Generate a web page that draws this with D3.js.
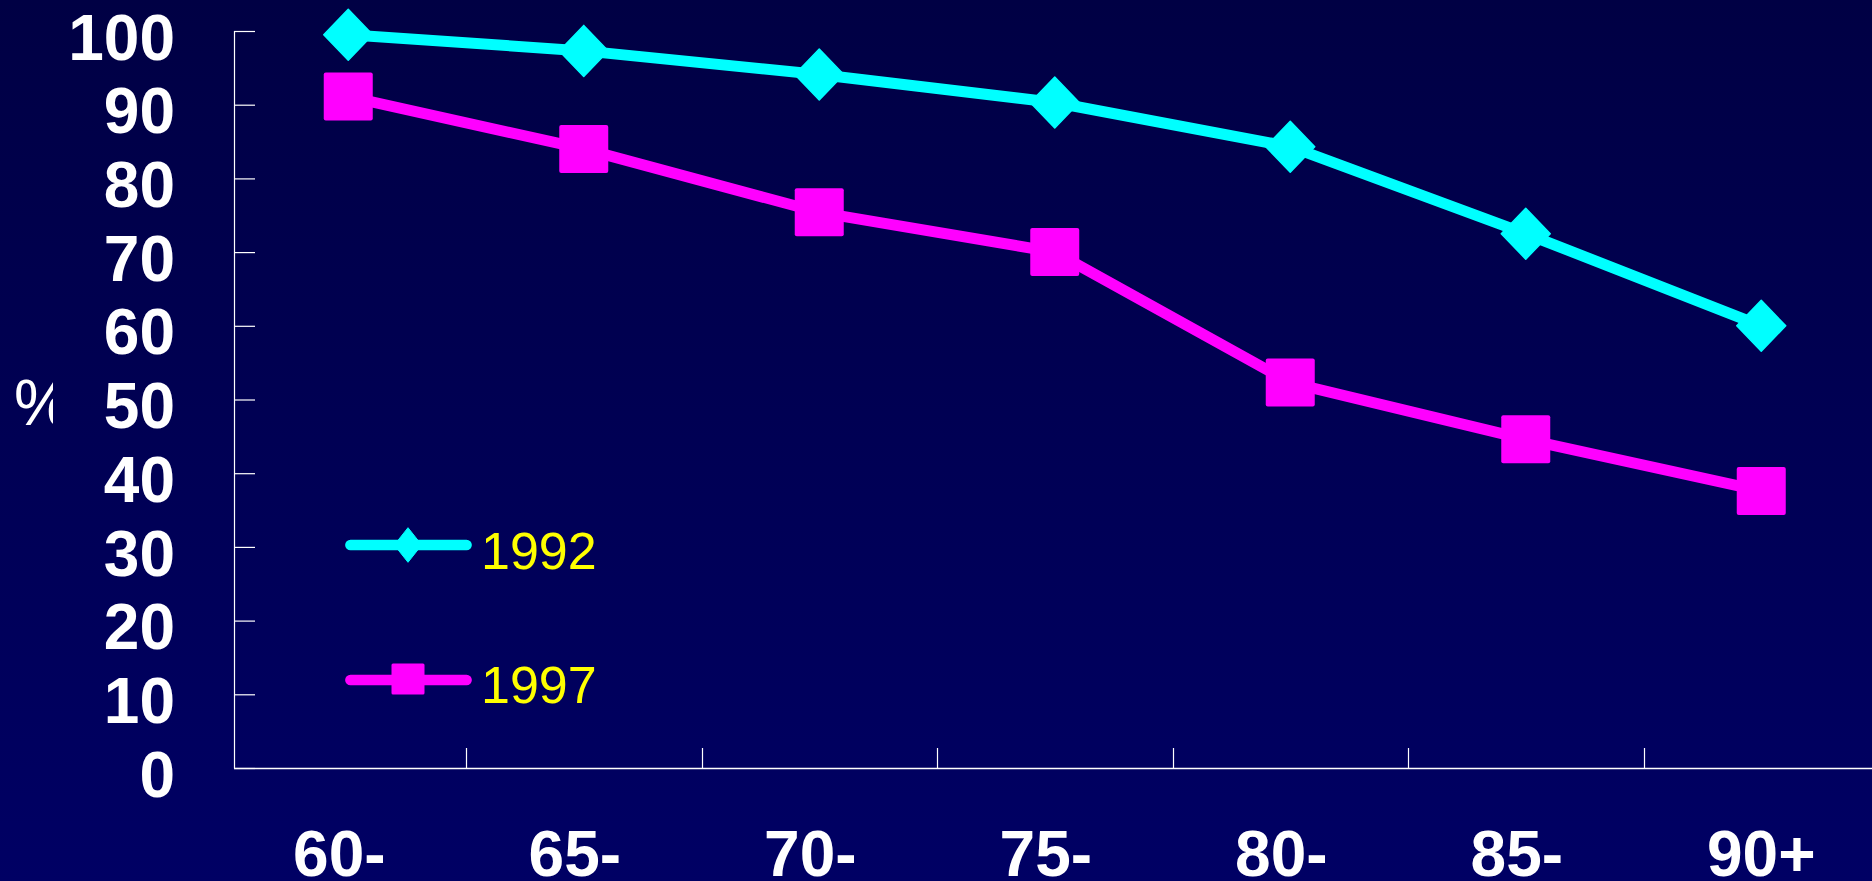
<!DOCTYPE html>
<html>
<head>
<meta charset="utf-8">
<script src="https://cdn.jsdelivr.net/npm/d3@7"></script>
<style>
  html, body { margin: 0; padding: 0; overflow: hidden; background: #000052; }
  svg { display: block; }
</style>
</head>
<body>
<script>
// Age groups along the horizontal axis
const ageGroups = ["60-", "65-", "70-", "75-", "80-", "85-", "90+"];
// Percentages per age group for each survey year
const values1992 = [99.5, 97.3, 94.1, 90.3, 84.3, 72.5, 60.0];
const values1997 = [91.1, 84.0, 75.4, 70.0, 52.3, 44.6, 37.6];
const seriesNames = ["1992", "1997"];
const yTicks = [0, 10, 20, 30, 40, 50, 60, 70, 80, 90, 100];
const yLabel = "%";

const W = 1872, H = 881;
const axisX = 234, axisY = 768;

const svg = d3.select("body").append("svg")
  .attr("width", W).attr("height", H);

// Background: deep navy, slightly lighter toward the bottom
const defs = svg.append("defs");
const grad = defs.append("linearGradient")
  .attr("id", "bg").attr("x1", 0).attr("y1", 0).attr("x2", 0).attr("y2", 1);
grad.append("stop").attr("offset", "0%").attr("stop-color", "#000044");
grad.append("stop").attr("offset", "100%").attr("stop-color", "#000064");
svg.append("rect").attr("width", W).attr("height", H).attr("fill", "url(#bg)");

defs.append("clipPath").attr("id", "pctClip")
  .append("rect").attr("x", 0).attr("y", 300).attr("width", 53).attr("height", 200);

const x = d3.scaleBand().domain(ageGroups).range([230.5, 230.5 + 7 * 235.5]).padding(0);
const y = d3.scaleLinear().domain([0, 100]).range([axisY, 31]);
const cx = d => x(d) + x.bandwidth() / 2;

const font = "'Liberation Sans', Arial, Helvetica, sans-serif";

// Y axis with inward ticks
const yAxis = svg.append("g")
  .attr("transform", `translate(${axisX},0)`)
  .call(d3.axisLeft(y).tickValues(yTicks).tickSize(-21).tickPadding(59).tickSizeOuter(0));
yAxis.select(".domain").attr("stroke", "#fff").attr("stroke-width", 1.2)
  .attr("d", `M0.5,${y(100)}V${axisY + 0.5}`);
yAxis.selectAll(".tick line").attr("stroke", "#fff").attr("stroke-width", 1.2);
yAxis.selectAll(".tick text")
  .attr("fill", "#fff").attr("dy", "0.44em")
  .style("font-family", font).style("font-size", "64px").style("font-weight", "bold");

// X axis line and category separators
svg.append("line")
  .attr("x1", axisX).attr("x2", W + 10)
  .attr("y1", axisY + 0.5).attr("y2", axisY + 0.5)
  .attr("stroke", "#fff").attr("stroke-width", 1.5);
svg.append("g").selectAll("line")
  .data(ageGroups.slice(1))
  .join("line")
  .attr("x1", d => Math.round(x(d)) + 0.5).attr("x2", d => Math.round(x(d)) + 0.5)
  .attr("y1", axisY).attr("y2", axisY - 20)
  .attr("stroke", "#fff").attr("stroke-width", 1.2);

// Category labels (hyphenated labels carry a trailing space in their text box)
svg.append("g").selectAll("text")
  .data(ageGroups)
  .join("text")
  .attr("x", d => cx(d))
  .attr("y", 876)
  .attr("dx", d => d.endsWith("-") ? -8.9 : 0)
  .attr("text-anchor", "middle")
  .attr("fill", "#fff")
  .style("font-family", font).style("font-size", "64px").style("font-weight", "bold")
  .text(d => d);

// Y axis caption, cut off on its right side
svg.append("text")
  .attr("x", 14).attr("y", 425)
  .attr("clip-path", "url(#pctClip)")
  .attr("fill", "#fff")
  .style("font-family", font).style("font-size", "64px")
  .text(yLabel);

const line = d3.line().x((d, i) => cx(ageGroups[i])).y(d => y(d));

const diamondPath = (hw, hh) => `M0,${-hh}L${hw},0L0,${hh}L${-hw},0Z`;

// 1992 series
svg.append("path")
  .datum(values1992)
  .attr("d", line)
  .attr("fill", "none").attr("stroke", "#00ffff")
  .attr("stroke-width", 11).attr("stroke-linejoin", "round");
svg.append("g").selectAll("path")
  .data(values1992)
  .join("path")
  .attr("transform", (d, i) => `translate(${cx(ageGroups[i])},${y(d)})`)
  .attr("d", diamondPath(24.5, 25.5))
  .attr("fill", "#00ffff").attr("stroke", "#00ffff")
  .attr("stroke-width", 1.5).attr("stroke-linejoin", "round");

// 1997 series
svg.append("path")
  .datum(values1997)
  .attr("d", line)
  .attr("fill", "none").attr("stroke", "#ff00ff")
  .attr("stroke-width", 11).attr("stroke-linejoin", "round");
svg.append("g").selectAll("rect")
  .data(values1997)
  .join("rect")
  .attr("x", (d, i) => cx(ageGroups[i]) - 24.5)
  .attr("y", d => y(d) - 24)
  .attr("width", 49).attr("height", 48)
  .attr("rx", 2)
  .attr("fill", "#ff00ff");

// Legend
const legend = svg.append("g");
const legendRows = [
  { name: seriesNames[0], color: "#00ffff", y: 545, baseline: 569, shape: "diamond" },
  { name: seriesNames[1], color: "#ff00ff", y: 680, baseline: 703, shape: "square" }
];
legendRows.forEach(r => {
  legend.append("line")
    .attr("x1", 350.5).attr("x2", 466.5).attr("y1", r.y).attr("y2", r.y)
    .attr("stroke", r.color).attr("stroke-width", 10.7).attr("stroke-linecap", "round");
  if (r.shape === "diamond") {
    legend.append("path")
      .attr("transform", `translate(408,${r.y})`)
      .attr("d", diamondPath(13.7, 17.3))
      .attr("fill", r.color).attr("stroke", r.color).attr("stroke-linejoin", "round");
  } else {
    legend.append("rect")
      .attr("x", 408 - 16.5).attr("y", r.y - 16.5).attr("width", 33).attr("height", 31)
      .attr("rx", 1.5).attr("fill", r.color);
  }
  legend.append("text")
    .attr("x", 481).attr("y", r.baseline)
    .attr("fill", "#ffff00")
    .style("font-family", font).style("font-size", "52px")
    .text(r.name);
});
</script>
</body>
</html>
